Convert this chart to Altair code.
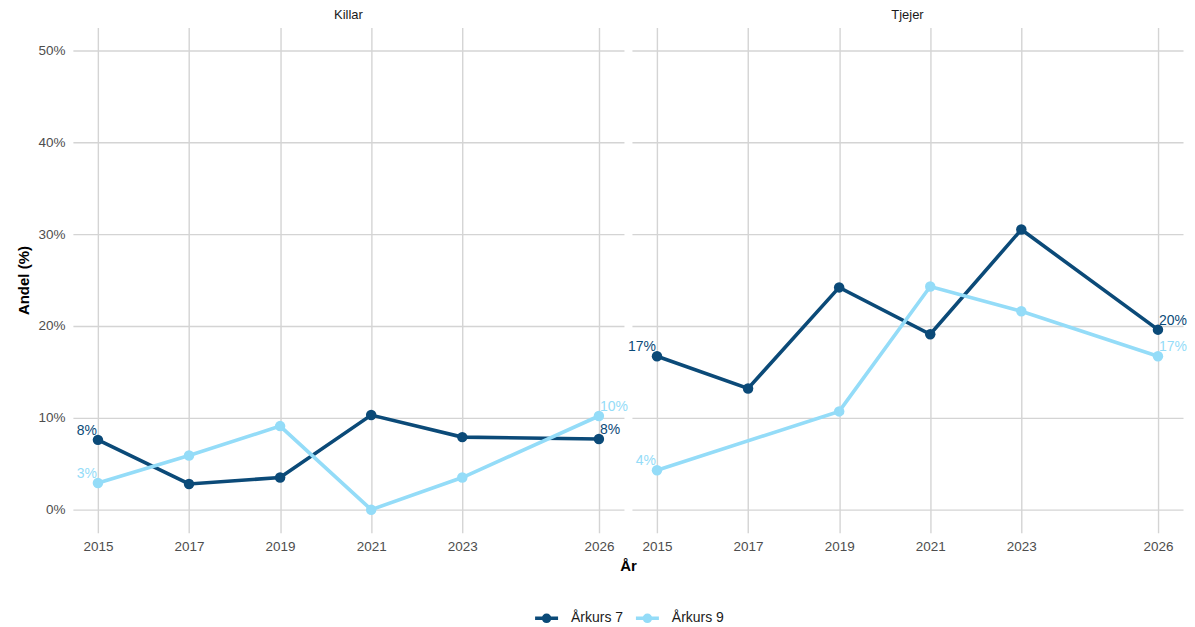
import altair as alt
import pandas as pd

# ---- data ----
years = [2015, 2017, 2019, 2021, 2023, 2026]
killar_ak7 = [7.6, 2.8, 3.5, 10.3, 7.9, 7.7]
killar_ak9 = [2.9, 5.9, 9.1, 0.0, 3.5, 10.2]
tjejer_ak7 = [16.7, 13.2, 24.2, 19.1, 30.5, 19.6]
tjejer_ak9_years = [2015, 2019, 2021, 2023, 2026]
tjejer_ak9 = [4.3, 10.7, 24.3, 21.6, 16.7]

groups = ["Årkurs 7", "Årkurs 9"]
panels = ["Killar", "Tjejer"]
colors = ["#0b4a78", "#94dcf8"]
x_ticks = [2015, 2017, 2019, 2021, 2023, 2026]
y_ticks = [0, 10, 20, 30, 40, 50]

series = [
    ("Killar", "Årkurs 7", years, killar_ak7),
    ("Killar", "Årkurs 9", years, killar_ak9),
    ("Tjejer", "Årkurs 7", years, tjejer_ak7),
    ("Tjejer", "Årkurs 9", tjejer_ak9_years, tjejer_ak9),
]
rows = []
for kon, grp, xs, vs in series:
    for i, (x, v) in enumerate(zip(xs, vs)):
        pos = "first" if i == 0 else ("last" if i == len(xs) - 1 else "mid")
        rows.append({"kon": kon, "grupp": grp, "ar": x, "andel": v,
                     "pos": pos, "etikett": f"{int(round(v))}%"})
df = pd.DataFrame(rows)

FONT = "Liberation Sans"
GRID = "#d4d4d4"
TICK_FS = 13.5
color_scale = alt.Scale(domain=groups, range=colors)

legend = alt.Legend(title=None, orient="none", direction="horizontal", legendX=461, legendY=578,
                    labelFontSize=14, labelColor="#1a1a1a", labelFont=FONT, padding=0,
                    symbolType="M-1,0L1,0M-0.27,0A0.27,0.27 0 1,1 0.27,0A0.27,0.27 0 1,1 -0.27,0M-0.12,0A0.12,0.12 0 1,1 0.12,0A0.12,0.12 0 1,1 -0.12,0",
                    symbolSize=530, symbolStrokeWidth=3.4, columnPadding=5, labelOffset=11)


def panel(kon, first):
    if first:
        x_axis = alt.Axis(values=x_ticks, format="d", title="År", titleX=556, titleY=33,
                          titleAlign="center", titleBaseline="middle", titleFontSize=15,
                          titleFontWeight="bold", titleColor="#000000", titleFont=FONT,
                          labelFontSize=TICK_FS, labelColor="#4d4d4d", labelPadding=7,
                          domain=False, ticks=False, grid=True, gridColor=GRID,
                          gridWidth=1.4, labelFont=FONT)
        y_axis = alt.Axis(values=y_ticks, labelExpr="datum.value + '%'", title="Andel (%)",
                          titleFontSize=15, titleFontWeight="bold", titleColor="#000000",
                          titlePadding=6, labelFontSize=TICK_FS, labelColor="#4d4d4d",
                          labelPadding=8, domain=False, ticks=False, grid=True,
                          gridColor=GRID, gridWidth=1.4, labelFont=FONT, titleFont=FONT)
    else:
        x_axis = alt.Axis(values=x_ticks, format="d", title=None,
                          labelFontSize=TICK_FS, labelColor="#4d4d4d", labelPadding=7,
                          domain=False, ticks=False, grid=True, gridColor=GRID,
                          gridWidth=1.4, labelFont=FONT)
        y_axis = alt.Axis(values=y_ticks, labels=False, title=None, domain=False, ticks=False,
                          grid=True, gridColor=GRID, gridWidth=1.4)

    base = alt.Chart(df).transform_filter(alt.datum.kon == kon)
    x_enc = alt.X("ar:Q", scale=alt.Scale(domain=[2014.45, 2026.55], nice=False, zero=False),
                  axis=x_axis)
    y_enc = alt.Y("andel:Q", scale=alt.Scale(domain=[-2.5, 52.5], nice=False, zero=False),
                  axis=y_axis)
    line = base.mark_line(strokeWidth=3.6).encode(
        x=x_enc, y=y_enc,
        color=alt.Color("grupp:N", scale=color_scale, legend=legend),
        detail="grupp:N",
    )
    points = base.mark_point(filled=True, size=110, opacity=1).encode(
        x="ar:Q", y="andel:Q",
        color=alt.Color("grupp:N", scale=color_scale, legend=None),
    )
    txt_first = base.mark_text(align="right", baseline="alphabetic", dx=-1, dy=-5,
                               fontSize=14, font=FONT).encode(
        x="ar:Q", y="andel:Q", text="etikett:N",
        color=alt.Color("grupp:N", scale=color_scale, legend=None),
    ).transform_filter(alt.datum.pos == "first")
    txt_last = base.mark_text(align="left", baseline="alphabetic", dx=1, dy=-5,
                              fontSize=14, font=FONT).encode(
        x="ar:Q", y="andel:Q", text="etikett:N",
        color=alt.Color("grupp:N", scale=color_scale, legend=None),
    ).transform_filter(alt.datum.pos == "last")
    return alt.layer(line, points, txt_first, txt_last).properties(
        width=552, height=506,
        title=alt.TitleParams(kon, fontSize=13, fontWeight="normal", color="#1a1a1a",
                              font=FONT, anchor="middle", offset=6),
    )


chart = alt.hconcat(panel("Killar", True), panel("Tjejer", False), spacing=8,
                    bounds="flush").properties(
    padding={"left": 8, "top": 0, "right": 0, "bottom": 0},
    background="white",
).configure_view(strokeWidth=0, stroke=None)

chart.save("out.html", embed_options={"renderer": "svg", "actions": False})
